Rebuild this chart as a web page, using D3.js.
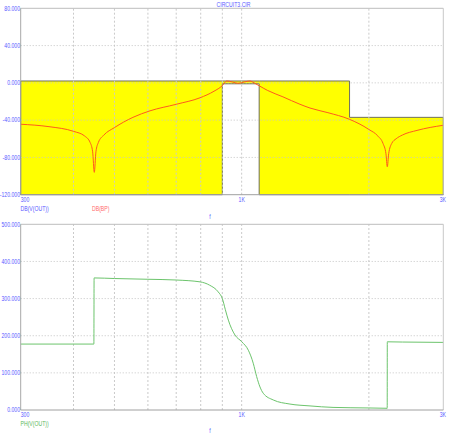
<!DOCTYPE html>
<html lang="en">
<head>
	<meta charset="utf-8"/>
	<title> CIRCUIT3.CIR </title>
	<script src="https://cdnjs.cloudflare.com/ajax/libs/d3/7.8.5/d3.min.js"></script>
	<style>
		body { margin:0; background:#fff; }
		svg { display:block; }
		text { font-family: "Liberation Sans", Arial, sans-serif; }
	</style>
</head>
<body>
<div id="chart"></div>
<script type="text/javascript">
	// frequency axis (log)
	var freqGrid = [400, 500, 600, 700, 800, 900, 1000, 2000];
	var freqLabelVals = [300, 1000, 3000];
	var freqLabelText = ["300", "1K", "3K"];

	// top plot ticks
	var dbTicks = [80, 40, 0, -40, -80, -120];
	var dbTickText = ["80.000", "40.000", "0.000", "-40.000", "-80.000", "-120.000"];
	// bottom plot ticks
	var phTicks = [500, 400, 300, 200, 100, 0];
	var phTickText = ["500.000", "400.000", "300.000", "200.000", "100.000", "0.000"];

	// DB(V(OUT)) band (filled yellow)
	var outFreq = [300, 900, 900, 1100, 1100, 1800, 1800, 3000];
	var outTop = [2, 2, 2, 2, 2, 2, -37, -37];
	var outBottom = [-120, -120, -1, -1, -120, -120, -120, -120];

	// DB(BP)
	var bpFreq = [300, 350, 400, 425, 438, 444, 448, 452, 458, 472, 500, 553, 607, 700, 797, 860, 900, 922, 950, 980, 1015, 1046, 1070, 1099, 1150, 1252, 1374, 1451, 1600, 1797, 2000, 2100, 2160, 2195, 2211, 2228, 2265, 2320, 2400, 2600, 3000];
	var bpDb = [-44.4, -47, -52, -57, -64, -74, -96, -74, -64, -56, -48, -37, -30, -23, -16, -9, -3, 2, 1, -0.5, 1, 2, 0, -3, -8, -15, -23, -27, -32, -39, -50, -57, -65, -76, -90, -76, -65, -60, -56, -51, -45.5];

	// PH(V(OUT))
	var phFreq = [300, 447, 447.5, 500, 600, 700, 797, 840, 880, 900, 915, 930, 964, 1000, 1037, 1065, 1085, 1105, 1125, 1188, 1301, 1451, 1645, 2000, 2210, 2211, 2400, 3000];
	var phDeg = [177.5, 177.5, 355.6, 354, 352, 350, 345, 336, 318, 300, 270, 242, 202, 184, 161, 126, 90, 62, 45, 27, 16, 11, 7, 5.5, 4.6, 183.6, 183, 182];

	var W = 456, H = 439;
	var left = 20.7, right = 443.3;
	var blue = "#5a5aff";

	var svg = d3.select("#chart").append("svg").attr("width", W).attr("height", H);

	var x = d3.scaleLog().domain([300, 3000]).range([left, right]);
	var yTop = d3.scaleLinear().domain([-120, 80]).range([194.7, 8.3]);
	var yBot = d3.scaleLinear().domain([0, 500]).range([410, 224.3]);

	// condensed little labels like the probe window
	function label(g, px, py, txt, col, anchor) {
		var t = g.append("text")
			.attr("transform", "translate(" + px + "," + py + ") scale(0.78,1)")
			.attr("font-size", "6.6px")
			.attr("fill", col)
			.attr("text-anchor", anchor || "start")
			.text(txt);
		return t;
	}

	function grid(g, y, ticks) {
		var y0 = y.range()[0], y1 = y.range()[1];
		g.selectAll(".vg").data(freqGrid).enter().append("line")
			.attr("x1", function(d) { return x(d); }).attr("x2", function(d) { return x(d); })
			.attr("y1", y0).attr("y2", y1)
			.attr("stroke", "#cacaca").attr("stroke-dasharray", "2,2");
		g.selectAll(".hg").data(ticks.filter(function(d) { return d !== y.domain()[0] && d !== y.domain()[1]; }))
			.enter().append("line")
			.attr("x1", left).attr("x2", right)
			.attr("y1", function(d) { return y(d); }).attr("y2", function(d) { return y(d); })
			.attr("stroke", "#c4c4c4").attr("stroke-dasharray", "1,2");
	}

	function frame(g, y) {
		var y0 = y.range()[0], y1 = y.range()[1];
		g.append("line").attr("x1", left).attr("x2", right).attr("y1", y1).attr("y2", y1).attr("stroke", "#bdbdbd");
		g.append("line").attr("x1", right).attr("x2", right).attr("y1", y1).attr("y2", y0).attr("stroke", "#c8c8c8");
		g.append("line").attr("x1", left).attr("x2", left).attr("y1", y1).attr("y2", y0).attr("stroke", "#a8a8a8");
		g.append("line").attr("x1", left).attr("x2", right).attr("y1", y0).attr("y2", y0).attr("stroke", "#a0a0a0");
	}

	function axisLabels(g, y, ticks, tickText, yUnder) {
		ticks.forEach(function(d, i) {
			label(g, 20, y(d) + 2.3, tickText[i], blue, "end");
		});
		freqLabelVals.forEach(function(d, i) {
			var anchor = i === 0 ? "start" : "middle";
			label(g, x(d) + (i === 2 ? -0.5 : 0), yUnder, freqLabelText[i], blue, anchor);
		});
	}

	// ---------- top plot ----------
	var gTop = svg.append("g");
	label(gTop, 233.5, 6.5, "CIRCUIT3.CIR", blue, "middle");

	var outData = outFreq.map(function(f, i) { return {f: f, hi: outTop[i], lo: outBottom[i]}; });
	var area = d3.area()
		.x(function(d) { return x(d.f); })
		.y0(function(d) { return yTop(d.lo); })
		.y1(function(d) { return yTop(d.hi); });
	gTop.append("path").datum(outData)
		.attr("d", area)
		.attr("fill", "#ffff00")
		.attr("stroke", "#707060").attr("stroke-width", 1);

	grid(gTop, yTop, dbTicks);

	var bpData = bpFreq.map(function(f, i) { return {f: f, v: bpDb[i]}; });
	gTop.append("path").datum(bpData)
		.attr("d", d3.line().curve(d3.curveMonotoneX).x(function(d) { return x(d.f); }).y(function(d) { return yTop(d.v); }))
		.attr("fill", "none").attr("stroke", "#ff5a1e").attr("stroke-width", 1);

	frame(gTop, yTop);
	axisLabels(gTop, yTop, dbTicks, dbTickText, 201.5);
	label(gTop, 20.5, 210.5, "DB(V(OUT))", blue);
	label(gTop, 92, 210.5, "DB(BP)", "#ff6a6a");
	label(gTop, 210, 218.5, "f", blue, "middle");

	// ---------- bottom plot ----------
	var gBot = svg.append("g");
	grid(gBot, yBot, phTicks);

	var phData = phFreq.map(function(f, i) { return {f: f, v: phDeg[i]}; });
	gBot.append("path").datum(phData)
		.attr("d", d3.line().curve(d3.curveMonotoneX).x(function(d) { return x(d.f); }).y(function(d) { return yBot(d.v); }))
		.attr("fill", "none").attr("stroke", "#6cc46c").attr("stroke-width", 1);

	frame(gBot, yBot);
	axisLabels(gBot, yBot, phTicks, phTickText, 417);
	label(gBot, 20.5, 426, "PH(V(OUT))", "#5cb85c");
	label(gBot, 210, 432.5, "f", blue, "middle");
</script>
</body>
</html>
